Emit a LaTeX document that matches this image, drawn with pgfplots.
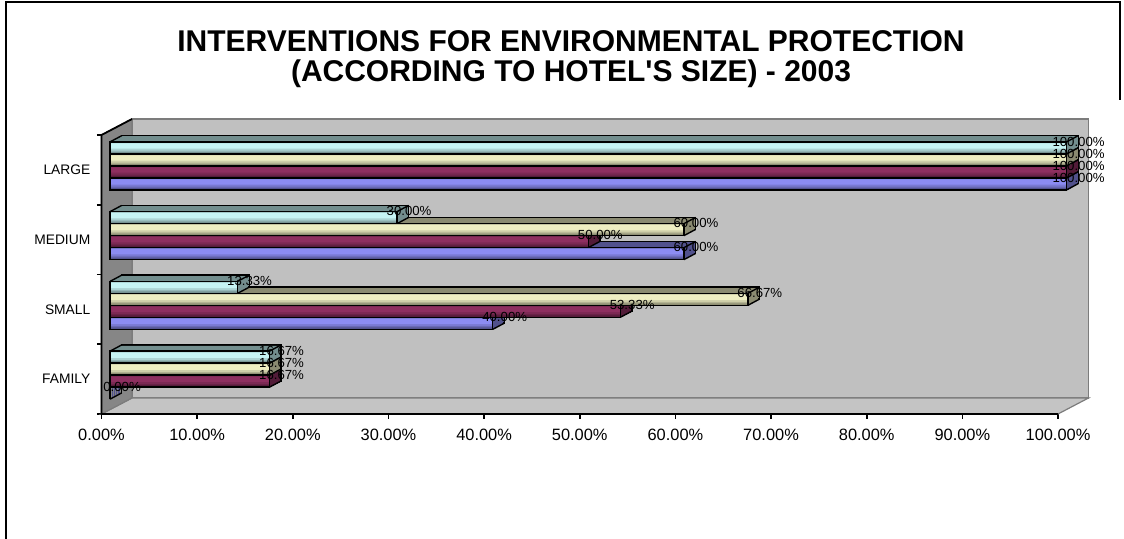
\documentclass[border=0pt]{standalone}
\usepackage{fontspec}
\setmainfont{Liberation Sans}
\usepackage{pgfplots}
\pgfplotsset{compat=1.18}
\usepackage{pgfplotstable}
\usetikzlibrary{calc}

\definecolor{serA}{HTML}{8C8CF2}
\definecolor{serB}{HTML}{8E2F60}
\definecolor{serC}{HTML}{EEEEC2}
\definecolor{serD}{HTML}{C6F4F4}
\definecolor{wallback}{HTML}{C0C0C0}
\definecolor{wallside}{HTML}{868686}
\definecolor{wallfloor}{HTML}{C4C4C4}
\definecolor{walledge}{HTML}{7C7C7C}

% y: FAMILY, SMALL, MEDIUM, LARGE at 0.5 ... 3.5
\pgfplotstableread{
y   v
0.5 0.00
1.5 40.00
2.5 60.00
3.5 100.00
}\seriesA
\pgfplotstableread{
y   v
0.5 16.67
1.5 53.33
2.5 50.00
3.5 100.00
}\seriesB
\pgfplotstableread{
y   v
0.5 16.67
1.5 66.67
2.5 60.00
3.5 100.00
}\seriesC
\pgfplotstableread{
y   v
0.5 16.67
1.5 13.33
2.5 30.00
3.5 100.00
}\seriesD

% front face of the bars sits this far inside the box
\def\fx{4.3pt}
\def\fy{2pt}
% depth of one bar
\def\bdx{5.8pt}
\def\bdy{3.1pt}
% the same depth in data units (478.25pt per 100, 34.875pt per category)
\def\bdu{1.2128}
\def\bdv{0.0889}
% depth of the chart box
\def\wdx{15.25pt}
\def\wdy{8pt}

% top and end faces of one series
\newcommand\barback[3]{% #1 table, #2 colour, #3 bar shift
  \addplot[xbar, bar width=6pt, bar shift=#3, fill=#2!58!black, draw=black, line width=0.7pt,
    xshift=\fx+\bdx, yshift=\fy+\bdy, forget plot] table[x=v,y=y] {#1};
  \pgfplotsinvokeforeach{5,4,3,2,1}{%
    \addplot[xbar, bar width=6pt, bar shift=#3, fill=#2!58!black, draw=#2!58!black, line width=0.3pt,
      xshift=\fx+##1*\bdx/6, yshift=\fy+##1*\bdy/6, forget plot] table[x=v,y=y] {#1};
  }
  \addplot[quiver={u=\bdu, v=\bdv}, draw=black, line width=0.7pt,
    xshift=\fx, yshift=\fy+#3+3pt, forget plot] table[x=v,y=y] {#1};
  \addplot[quiver={u=\bdu, v=\bdv}, draw=black, line width=0.7pt,
    xshift=\fx, yshift=\fy+#3-3pt, forget plot] table[x=v,y=y] {#1};
  \addplot[quiver={u=\bdu, v=\bdv}, draw=black, line width=0.7pt,
    xshift=\fx, yshift=\fy+#3+3pt, forget plot] table[x expr=0,y=y] {#1};
}
% front face of one series: shaded in horizontal bands, then outlined
\newcommand\barfront[3]{%
  \addplot[xbar, bar width=6pt, bar shift=#3, fill=#2!60!black, draw=none,
    xshift=\fx, yshift=\fy, forget plot] table[x=v,y=y] {#1};
  \addplot[xbar, bar width=5pt, bar shift=#3+0.5pt, fill=#2!74!black, draw=none,
    xshift=\fx, yshift=\fy, forget plot] table[x=v,y=y] {#1};
  \addplot[xbar, bar width=4pt, bar shift=#3+0.6pt, fill=#2!87!black, draw=none,
    xshift=\fx, yshift=\fy, forget plot] table[x=v,y=y] {#1};
  \addplot[xbar, bar width=2.6pt, bar shift=#3+0.9pt, fill=#2, draw=none,
    xshift=\fx, yshift=\fy, forget plot] table[x=v,y=y] {#1};
  \addplot[xbar, bar width=6pt, bar shift=#3, fill=none, draw=black, line width=0.7pt,
    xshift=\fx, yshift=\fy, forget plot] table[x=v,y=y] {#1};
}
% value labels of one series
\newcommand\barlabels[2]{%
  \addplot[draw=none, mark=*, mark size=0pt, mark options={draw=none,fill=none},
    forget plot, point meta=x,
    nodes near coords={\pgfmathprintnumber[fixed,fixed zerofill,precision=2]{\pgfplotspointmeta}\%},
    every node near coord/.append style={anchor=center, inner sep=0pt, text=black,
      font=\fontsize{6.6}{7}\selectfont},
    xshift=\fx+6pt, yshift=\fy+#2+3.2pt] table[x=v,y=y] {#1};
}

\begin{document}
\begin{tikzpicture}
\path[use as bounding box] (0,0) rectangle (562pt,269.5pt);
\begin{axis}[
  at={(50.75pt,62.5pt)}, anchor=south west,
  width=478.25pt, height=139.5pt, scale only axis,
  xmin=0, xmax=100, ymin=0, ymax=4,
  clip=false,
  axis x line*=bottom, axis y line*=left,
  axis line style={draw=none},
  tick align=outside, major tick length=2.3pt,
  tick style={black, line width=0.8pt},
  xtick={0,10,...,100},
  xticklabels={0.00\%,10.00\%,20.00\%,30.00\%,40.00\%,50.00\%,60.00\%,70.00\%,80.00\%,90.00\%,100.00\%},
  xticklabel style={font=\fontsize{8.2}{9}\selectfont, inner sep=0pt, yshift=-4.8pt},
  ytick={0,1,2,3,4}, yticklabels={},
  extra y ticks={0.5,1.5,2.5,3.5},
  extra y tick labels={FAMILY,SMALL,MEDIUM,LARGE},
  extra y tick style={major tick length=0pt,
    yticklabel style={font=\fontsize{6.9}{8}\selectfont, inner sep=0pt, xshift=-5.4pt}},
  /pgf/number format/assume math mode=true,
]
% walls and floor of the chart box
\fill[wallback] ($(axis cs:0,0)+(\wdx,\wdy)$) rectangle ($(axis cs:100,4)+(\wdx,\wdy)$);
\draw[walledge, line width=0.6pt] ($(axis cs:0,0)+(\wdx,\wdy)$) rectangle ($(axis cs:100,4)+(\wdx,\wdy)$);
\filldraw[fill=wallfloor, draw=walledge, line width=0.6pt] (axis cs:0,0) -- (axis cs:100,0)
  -- ($(axis cs:100,0)+(\wdx,\wdy)$) -- ($(axis cs:0,0)+(\wdx,\wdy)$) -- cycle;
\filldraw[fill=wallside, draw=walledge, line width=0.6pt] (axis cs:0,0) -- (axis cs:0,4)
  -- ($(axis cs:0,4)+(\wdx,\wdy)$) -- ($(axis cs:0,0)+(\wdx,\wdy)$) -- cycle;
\draw[black, line width=0.9pt] ($(axis cs:0,4)+(\wdx,\wdy)$) -- (axis cs:0,4) -- (axis cs:0,0) -- (axis cs:100,0);

\barback{\seriesA}{serA}{-9pt}
\barback{\seriesB}{serB}{-3pt}
\barback{\seriesC}{serC}{3pt}
\barback{\seriesD}{serD}{9pt}

\barfront{\seriesA}{serA}{-9pt}
\barfront{\seriesB}{serB}{-3pt}
\barfront{\seriesC}{serC}{3pt}
\barfront{\seriesD}{serD}{9pt}

\barlabels{\seriesA}{-9pt}
\barlabels{\seriesB}{-3pt}
\barlabels{\seriesC}{3pt}
\barlabels{\seriesD}{9pt}
\end{axis}

\node[align=center, font=\bfseries\fontsize{15}{15}\selectfont] at (285.5pt,240pt)
  {INTERVENTIONS FOR ENVIRONMENTAL PROTECTION\\(ACCORDING TO HOTEL\textquotesingle S SIZE) - 2003};

% outer frame
\draw[black, line width=1pt] (3pt,0) -- (3pt,268.5pt) -- (560pt,268.5pt) -- (560pt,219.5pt);
\end{tikzpicture}
\end{document}
